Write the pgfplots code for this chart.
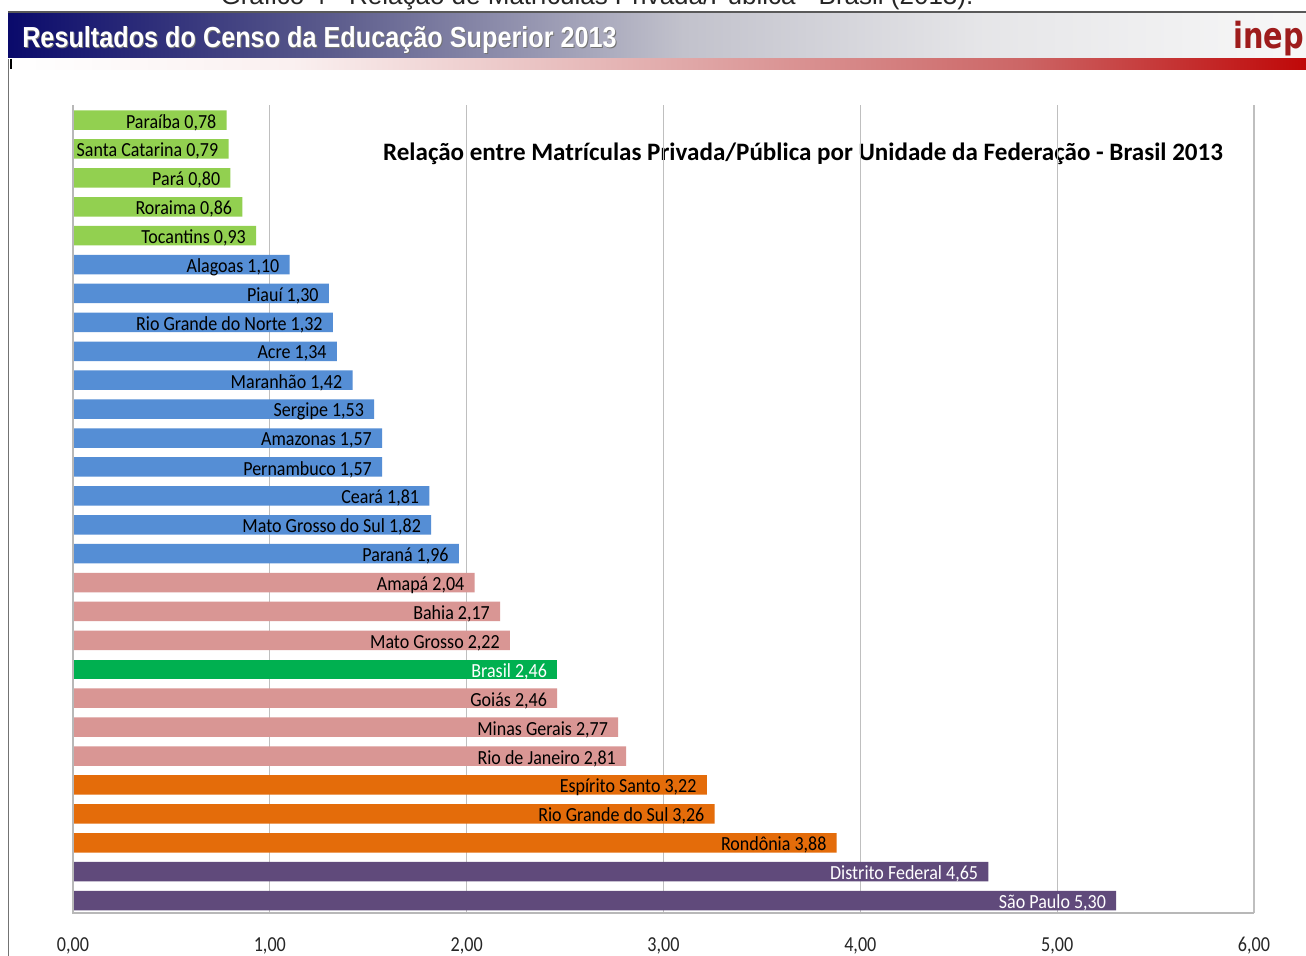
\documentclass[border=0pt]{standalone}
\usepackage{pgfplots}
\pgfplotsset{compat=1.18}
\usepackage{fontspec}
\setmainfont{Carlito}
\newfontfamily\lab[FakeStretch=0.9]{Carlito}
\newfontfamily\tickf[FakeStretch=0.85]{Carlito}
\newfontfamily\ttl{Carlito}
\newfontfamily\hdr[FakeStretch=0.87]{Liberation Sans}
\newfontfamily\ar{Liberation Sans}
\newfontfamily\logof[FakeStretch=0.8]{DejaVu Sans}
\definecolor{cLG}{HTML}{92D050}
\definecolor{cBL}{HTML}{558ED5}
\definecolor{cPK}{HTML}{D99694}
\definecolor{cGR}{HTML}{00B050}
\definecolor{cOR}{HTML}{E46C0A}
\definecolor{cPU}{HTML}{604A7B}
\definecolor{logo}{HTML}{9E1C1C}
% the path spans 25bp..75bp of the shading
\pgfdeclarehorizontalshading{bandshade}{100bp}{%
  rgb(0bp)=(0.04,0.04,0.42);
  rgb(25bp)=(0.04,0.04,0.42);
  rgb(37.5bp)=(0.36,0.36,0.55);
  rgb(51bp)=(0.76,0.76,0.80);
  rgb(62.5bp)=(0.90,0.90,0.91);
  rgb(75bp)=(0.97,0.97,0.97);
  rgb(100bp)=(0.97,0.97,0.97)}
\pgfdeclarehorizontalshading{redshade}{100bp}{%
  rgb(0bp)=(1,1,1);
  rgb(25bp)=(1,1,1);
  rgb(36bp)=(0.98,0.94,0.94);
  rgb(51bp)=(0.88,0.66,0.66);
  rgb(64bp)=(0.80,0.40,0.40);
  rgb(75bp)=(0.75,0.03,0.03);
  rgb(100bp)=(0.75,0.03,0.03)}
\begin{document}
\begin{tikzpicture}
\useasboundingbox (0,0) rectangle (979.5pt,717pt);
\clip (0,0) rectangle (979.5pt,717pt);
\begin{scope}[x=0.75pt,y=0.75pt]
\fill[white] (0,0) rectangle (1306,956);
% cut-off caption at the very top
\node[anchor=base, font=\ar\fontsize{19.5pt}{22pt}\selectfont, text=black!85, inner sep=0pt] at (597,951) {Gráfico 4 - Relação de Matrículas Privada/Pública - Brasil (2013).};
% header band
\shade[shading=bandshade] (8,897) rectangle (1306,944);
\shade[shading=redshade] (8,886) rectangle (1306,897);
\draw[black!65, line width=1pt] (8,944) -- (1306,944);
\draw[black!55, line width=1pt] (8.5,897) -- (8.5,0);
\draw[black, line width=1.5pt] (10.5,897) -- (10.5,887);
\node[anchor=base west, inner sep=0pt, text=black!55, font=\hdr\bfseries\fontsize{21.75pt}{24pt}\selectfont] at (23,907) {Resultados do Censo da Educação Superior 2013};
\node[anchor=base west, inner sep=0pt, text=white, font=\hdr\bfseries\fontsize{21.75pt}{24pt}\selectfont] at (22,908) {Resultados do Censo da Educação Superior 2013};
\node[anchor=base east, inner sep=0pt, text=logo, font=\logof\bfseries\fontsize{27pt}{27pt}\selectfont] at (1304,907) {inep};
% chart title
\node[anchor=center, inner sep=0pt, font=\ttl\bfseries\fontsize{18.8pt}{20pt}\selectfont] at (803,802) {Relação entre Matrículas Privada/Pública por Unidade da Federação - Brasil 2013};
\end{scope}
\begin{axis}[
  at={(54.75pt,32.25pt)}, anchor=south west,
  scale only axis, width=885.75pt, height=606pt,
  xmin=0, xmax=6, ymin=-0.52, ymax=27.43, y dir=reverse,
  axis line style={draw=none},
  ytick=\empty,
  xtick={0,1,2,3,4,5,6},
  xticklabels={{0,00},{1,00},{2,00},{3,00},{4,00},{5,00},{6,00}},
  major tick length=0pt,
  xmajorgrids, grid style={black!25, line width=0.9pt},
  xticklabel style={font=\tickf\fontsize{16pt}{16pt}\selectfont, anchor=north, inner sep=0pt, yshift=-18pt, text=black!85},
  xbar, bar width=0.675, bar shift=0pt,
  point meta=explicit symbolic,
  nodes near coords,
  nodes near coords style={anchor=east, xshift=-7.5pt, yshift=-1.8pt, inner sep=0pt, font=\lab\fontsize{15pt}{15pt}\selectfont, text=black},
  clip=false,
]
\addplot[fill=cLG, draw=none] table[x=v, y=i, meta=lab, col sep=semicolon, row sep=\\] {
v;i;lab\\
0.78;0;Paraíba 0,78\\
0.79;1;Santa Catarina 0,79\\
0.80;2;Pará 0,80\\
0.86;3;Roraima 0,86\\
0.93;4;Tocantins 0,93\\
};
\addplot[fill=cBL, draw=none] table[x=v, y=i, meta=lab, col sep=semicolon, row sep=\\] {
v;i;lab\\
1.10;5;Alagoas 1,10\\
1.30;6;Piauí 1,30\\
1.32;7;Rio Grande do Norte 1,32\\
1.34;8;Acre 1,34\\
1.42;9;Maranhão 1,42\\
1.53;10;Sergipe 1,53\\
1.57;11;Amazonas 1,57\\
1.57;12;Pernambuco 1,57\\
1.81;13;Ceará 1,81\\
1.82;14;Mato Grosso do Sul 1,82\\
1.96;15;Paraná 1,96\\
};
\addplot[fill=cPK, draw=none] table[x=v, y=i, meta=lab, col sep=semicolon, row sep=\\] {
v;i;lab\\
2.04;16;Amapá 2,04\\
2.17;17;Bahia 2,17\\
2.22;18;Mato Grosso 2,22\\
2.46;20;Goiás 2,46\\
2.77;21;Minas Gerais 2,77\\
2.81;22;Rio de Janeiro 2,81\\
};
\addplot[fill=cGR, draw=none, nodes near coords style={text=white}] table[x=v, y=i, meta=lab, col sep=semicolon, row sep=\\] {
v;i;lab\\
2.46;19;Brasil 2,46\\
};
\addplot[fill=cOR, draw=none] table[x=v, y=i, meta=lab, col sep=semicolon, row sep=\\] {
v;i;lab\\
3.22;23;Espírito Santo 3,22\\
3.26;24;Rio Grande do Sul 3,26\\
3.88;25;Rondônia 3,88\\
};
\addplot[fill=cPU, draw=none, nodes near coords style={text=white}] table[x=v, y=i, meta=lab, col sep=semicolon, row sep=\\] {
v;i;lab\\
4.65;26;Distrito Federal 4,65\\
5.30;27;São Paulo 5,30\\
};
\draw[black!28, line width=1pt] (axis description cs:0,1) -- (axis description cs:0,0) -- (axis description cs:1,0);
\end{axis}
\end{tikzpicture}
\end{document}
